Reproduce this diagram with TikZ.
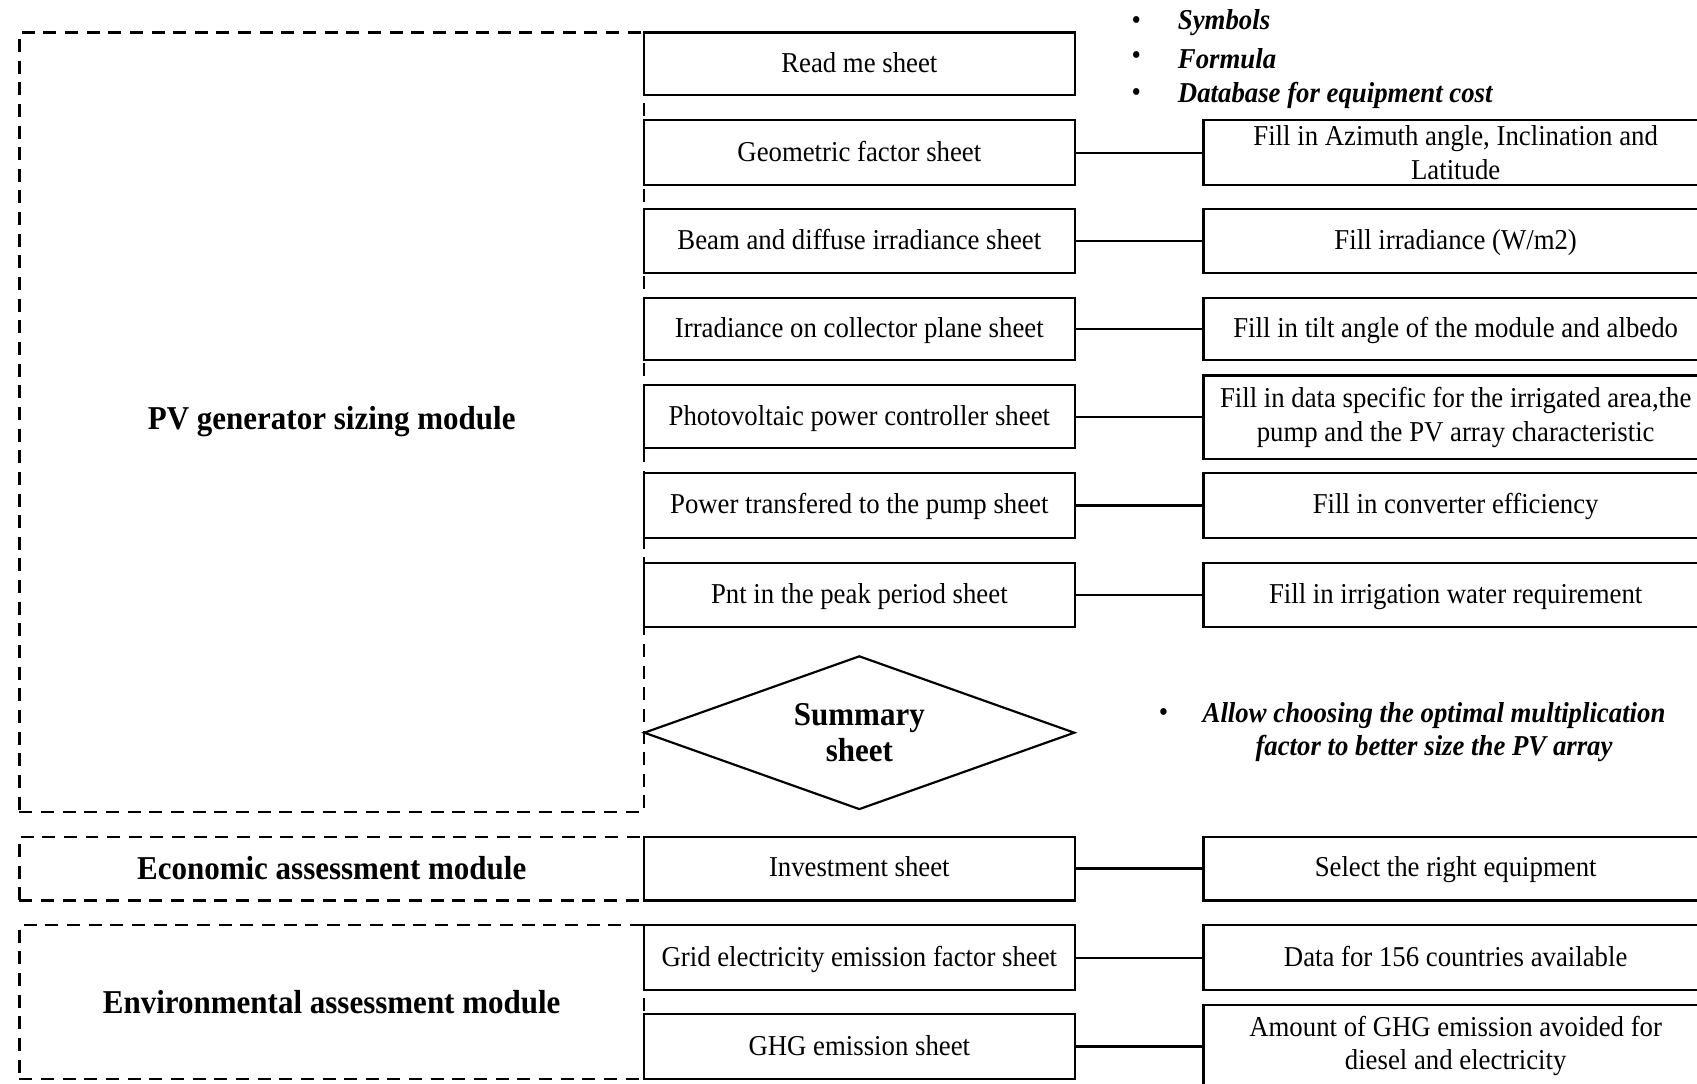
\documentclass[tikz,border=0pt]{standalone}
\usepackage{fontspec}
\setmainfont{Liberation Serif}[FakeStretch=0.93]
\usetikzlibrary{shapes.geometric}
\begin{document}
\begin{tikzpicture}[x=0.5pt,y=-0.5pt,
  txt/.style={font=\fontsize{13.3}{15.5}\selectfont},
  oneline/.style={text height=9.3pt, text depth=1.5pt},
  sheet/.style={draw, line width=1pt, fill=white, minimum width=199pt, minimum height=29.5pt, inner sep=0pt, txt, oneline},
  task/.style={draw, line width=1pt, fill=white, minimum width=233pt, minimum height=29.5pt, inner sep=0pt, align=center, txt},
  module/.style={draw, line width=1pt, dash pattern=on 6pt off 4pt, minimum width=288.5pt, inner sep=0pt, font=\bfseries\fontsize{15.4}{17}\selectfont},
  conn/.style={draw, line width=1pt},
  note/.style={font=\bfseries\itshape\fontsize{13.3}{15.5}\selectfont, inner sep=0pt},
  bul/.style={font=\fontsize{13.3}{15.5}\selectfont, inner sep=0pt}
]
\useasboundingbox (0,0) rectangle (1568,1001);
\fill[white] (0,0) rectangle (1568,1001);
\clip (0,0) rectangle (1568,1001);

% modules
\node[module, minimum height=360pt] (pvm) at (306.5,390) {PV generator sizing module};
\node[module, minimum height=29.5pt] (ecm) at (306.5,802.5) {Economic assessment module};
\node[module, minimum height=71pt] (envm) at (306.5,926) {Environmental assessment module};

% sheets
\node[sheet, minimum height=29pt] (readme) at (794,59) {Read me sheet};
\node[sheet, minimum height=30pt] (geo) at (794,141) {Geometric factor sheet};
\node[sheet] (beam) at (794,222.5) {Beam and diffuse irradiance sheet};
\node[sheet, minimum height=29pt] (irr) at (794,304) {Irradiance on collector plane sheet};
\node[sheet, minimum height=29pt] (pvc) at (794,385) {Photovoltaic power controller sheet};
\node[sheet, minimum height=30pt] (pow) at (794,467) {Power transfered to the pump sheet};
\node[sheet] (pnt) at (794,549.5) {Pnt in the peak period sheet};
\node[draw, diamond, aspect=2.8, minimum width=199pt, minimum height=71pt, inner sep=0pt, line width=1pt, fill=white, align=center, font=\bfseries\fontsize{15.4}{16.5}\selectfont] (sum) at (794,677) {Summary\\sheet};
\node[sheet] (inv) at (794,802.5) {Investment sheet};
\node[sheet, minimum height=30pt] (grid) at (794,885) {Grid electricity emission factor sheet};
\node[sheet, minimum height=30pt] (ghg) at (794,967) {GHG emission sheet};

% tasks
\node[task, minimum height=30pt] (rgeo) at (1345,141) {Fill in Azimuth angle, Inclination and\\Latitude};
\node[task, oneline] (rbeam) at (1345,222.5) {Fill irradiance (W/m2)};
\node[task, oneline, minimum height=29pt] (rirr) at (1345,304) {Fill in tilt angle of the module and albedo};
\node[task, minimum height=38.5pt] (rpvc) at (1345,385.5) {Fill in data specific for the irrigated area,the\\pump and the PV array characteristic};
\node[task, oneline, minimum height=30pt] (rpow) at (1345,467) {Fill in converter efficiency};
\node[task, oneline] (rpnt) at (1345,549.5) {Fill in irrigation water requirement};
\node[task, oneline] (rinv) at (1345,802.5) {Select the right equipment};
\node[task, oneline, minimum height=30pt] (rgrid) at (1345,885) {Data for 156 countries available};
\node[task, minimum height=38pt] (rghg) at (1345,966.5) {Amount of GHG emission avoided for\\diesel and electricity};

% connectors
\draw[conn] (geo.east) -- (rgeo.west);
\draw[conn] (beam.east) -- (rbeam.west);
\draw[conn] (irr.east) -- (rirr.west);
\draw[conn] (pvc.east) -- (rpvc.west |- pvc.east);
\draw[conn] (pow.east) -- (rpow.west);
\draw[conn] (pnt.east) -- (rpnt.west);
\draw[conn] (inv.east) -- (rinv.west);
\draw[conn] (grid.east) -- (rgrid.west);
\draw[conn] (ghg.east) -- (rghg.west |- ghg.east);

% notes
\node[bul] (b1) at (1050,21) {•};
\node[bul] (b2) at (1050,54) {•};
\node[bul] (b3) at (1050,88) {•};
\node[note, anchor=west] (n1) at (1088,21) {Symbols};
\node[note, anchor=west] (n2) at (1088,54) {Formula};
\node[note, anchor=west] (n3) at (1088,88) {Database for equipment cost};
\node[bul] (b4) at (1075,661) {•};
\node[note, align=center] (n4) at (1325,676.5) {Allow choosing the optimal multiplication\\factor to better size the PV array};
\end{tikzpicture}
\end{document}
